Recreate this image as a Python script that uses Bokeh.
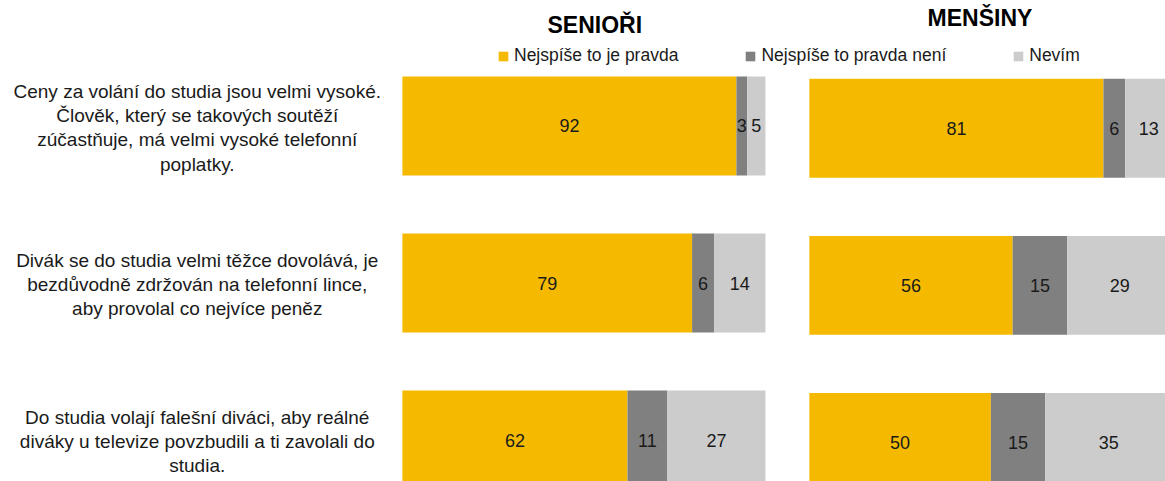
from bokeh.plotting import figure
from bokeh.models import Range1d, ColumnDataSource, Legend, LegendItem
from bokeh.core.properties import value
from bokeh.embed import file_html
from bokeh.resources import INLINE

# ---- data ----
statements = [
    "Ceny za volání do studia jsou velmi vysoké.\nČlověk, který se takových soutěží\nzúčastňuje, má velmi vysoké telefonní\npoplatky.",
    "Divák se do studia velmi těžce dovolává, je\nbezdůvodně zdržován na telefonní lince,\naby provolal co nejvíce peněz",
    "Do studia volají falešní diváci, aby reálné\ndiváky u televize povzbudili a ti zavolali do\nstudia.",
]
groups = ["SENIOŘI", "MENŠINY"]
series = ["Nejspíše to je pravda", "Nejspíše to pravda není", "Nevím"]
colors = ["#F5BA00", "#808080", "#CCCCCC"]

seniori_true = [92, 79, 62]
seniori_false = [3, 6, 11]
seniori_dk = [5, 14, 27]

mensiny_true = [81, 56, 50]
mensiny_false = [6, 15, 15]
mensiny_dk = [13, 29, 35]

panel_values = [
    [seniori_true, seniori_false, seniori_dk],
    [mensiny_true, mensiny_false, mensiny_dk],
]

# ---- layout constants ----
FONT = "Liberation Sans"
PANEL_OFFSET = [0.0, 112.1]
PANEL_YSHIFT = [0.0, 0.015]
BAR_H = 0.63
W, H = 1165, 481

p = figure(width=W, height=H, output_backend="svg", toolbar_location=None,
           x_range=Range1d(-110.7, 210.2), y_range=Range1d(2.264, -0.799),
           min_border=0, outline_line_color=None)
p.xaxis.visible = False
p.yaxis.visible = False
p.grid.visible = False
p.background_fill_color = "white"
p.border_fill_color = "white"

rows = list(range(len(statements)))
legend_renderers = [None, None, None]

for gi, vals in enumerate(panel_values):
    off = PANEL_OFFSET[gi]
    ys = [r + PANEL_YSHIFT[gi] for r in rows]
    totals = [sum(col) for col in zip(*vals)]  # 100 % stacked
    cum = [0.0] * len(rows)
    for si, svals in enumerate(vals):
        shares = [v / t * 100.0 for v, t in zip(svals, totals)]
        left = [off + c for c in cum]
        right = [off + c + s for c, s in zip(cum, shares)]
        mid = [(l + r) / 2 for l, r in zip(left, right)]
        src = ColumnDataSource(dict(y=ys, left=left, right=right, mid=mid,
                                    lab=[str(v) for v in svals]))
        r = p.hbar(y="y", left="left", right="right", height=BAR_H, source=src,
                   fill_color=colors[si], line_color=None)
        if legend_renderers[si] is None:
            legend_renderers[si] = r
        p.text(x="mid", y="y", text="lab", source=src, text_align="center",
               text_baseline="middle", text_font=value(FONT),
               text_font_size="18px", text_color="#1a1a1a")
        cum = [c + s for c, s in zip(cum, shares)]

# statement labels
p.text(x=[-56.5] * len(rows), y=[r + 0.01 for r in rows], text=statements,
       text_align="center", text_baseline="middle", text_font=value(FONT),
       text_font_size="19px", text_color="#1a1a1a", text_line_height=1.16)

# group titles
p.text(x=[53.0, PANEL_OFFSET[1] + 47.0], y=[-0.64, -0.685], text=groups,
       text_align="center", text_baseline="middle", text_font=value(FONT),
       text_font_size="23px", text_font_style="bold", text_color="black")

legend = Legend(items=[LegendItem(label=s, renderers=[legend_renderers[i]])
                       for i, s in enumerate(series)],
                orientation="horizontal", location=(497, 415),
                glyph_width=12, glyph_height=12, label_height=20,
                label_standoff=5, spacing=66, padding=0, margin=0,
                border_line_color=None, background_fill_alpha=0,
                label_text_font=FONT, label_text_font_size="17.5px",
                label_text_color="#1a1a1a")
p.add_layout(legend, "center")

open("out.html", "w").write(file_html(p, INLINE))
